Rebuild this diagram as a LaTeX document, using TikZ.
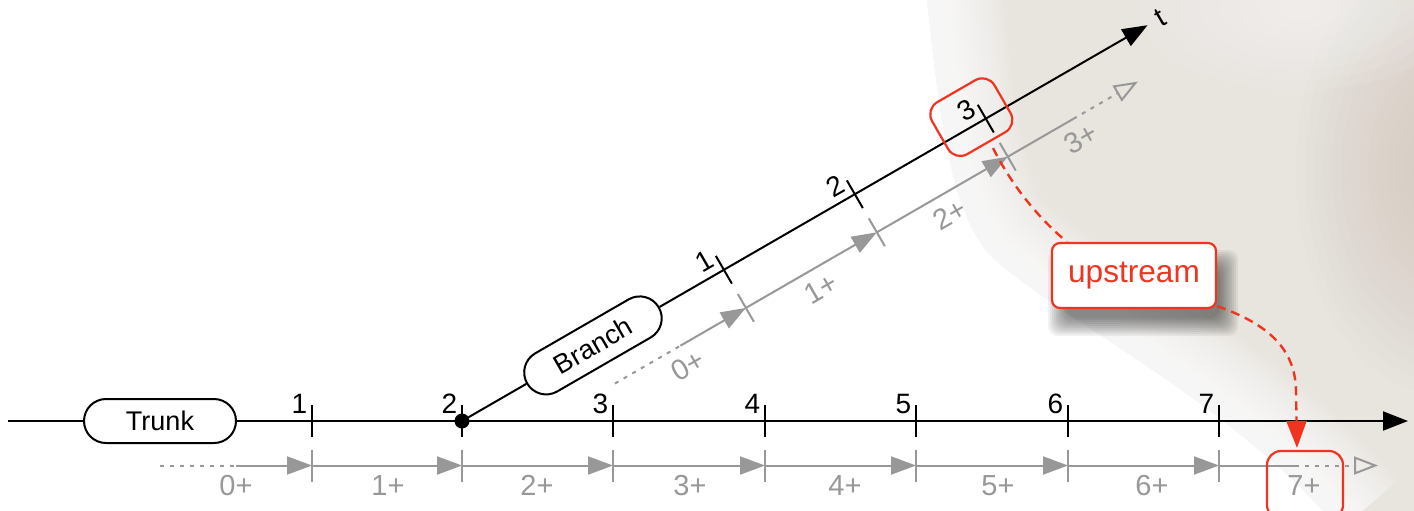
\documentclass[tikz,border=0pt]{standalone}
\usepackage{fontspec}
\setmainfont{Liberation Sans}
\usetikzlibrary{arrows.meta}
\definecolor{redA}{RGB}{240,52,32}
\definecolor{grayA}{RGB}{152,152,152}
\definecolor{beigeA}{RGB}{232,228,222}
\definecolor{beigeB}{RGB}{196,184,170}
\begin{document}
\begin{tikzpicture}[x=0.5pt,y=-0.5pt,
  blk/.style={line width=1pt, black},
  gry/.style={line width=1pt, grayA},
  gdot/.style={gry, dash pattern=on 2pt off 3pt},
  garr/.style={gry, -{Triangle[length=12.5pt,width=9pt]}},
  gopen/.style={gry, dash pattern=on 2pt off 3pt, -{Triangle[open,length=12pt,width=9pt]}},
  barr/.style={blk, -{Triangle[length=12.5pt,width=9.5pt]}},
  pill/.style={draw, line width=1pt, fill=white, rounded corners=11pt, minimum width=76pt, minimum height=22pt, inner sep=0pt, font=\fontsize{13.5}{16}\selectfont},
  lab/.style={inner sep=0pt, font=\fontsize{14}{16}\selectfont},
  glab/.style={inner sep=0pt, text=grayA, font=\fontsize{14.5}{16}\selectfont},
  redbox/.style={draw=redA, line width=1.1pt, rounded corners=7pt, inner sep=0pt},
  rdash/.style={draw=redA, line width=1.2pt, dash pattern=on 4.5pt off 3pt},
  upbox/.style={draw=redA, line width=1.1pt, fill=white, rounded corners=4pt, minimum width=82pt, minimum height=32.5pt, inner sep=0pt, text=redA, font=\fontsize{15.8}{18}\selectfont}
]
\useasboundingbox (0,0) rectangle (1414,510);
\clip (0,0) rectangle (1414,510);
\fill[white] (0,0) rectangle (1414,510);
% ---- background: soft beige region on the right
\def\bgcurve{(925,-20) .. controls (940,120) and (950,210) .. (990,255) .. controls (1060,320) and (1230,400) .. (1340,530)}
\fill[beigeA] (925,-20) .. controls (940,120) and (950,210) .. (990,255) .. controls (1060,320) and (1230,400) .. (1340,530) -- (1440,530) -- (1440,-20) -- cycle;
\foreach \w in {150,142,...,6}{
  \draw[white, opacity=0.1, line width=\w*0.5pt] \bgcurve;
}
\foreach \i in {1,...,16}{
  \fill[beigeB, opacity=0.03] (1440,170) ellipse [x radius=\i*4.5pt, y radius=\i*7pt];
}
\foreach \i in {1,...,8}{
  \fill[white, opacity=0.07] (1300,10) ellipse [x radius=\i*10pt, y radius=\i*5pt];
}

% ---- trunk gray (offset) line
\foreach \n/\x in {0/160,1/312,2/462,3/613,4/765,5/916,6/1068,7/1219}{\coordinate (G\n) at (\x,465.5);}
\coordinate (G0h) at (236,465.5);
\coordinate (G7h) at (1295,465.5);
\coordinate (Gend) at (1378,465.5);
\draw[gdot] (G0) -- (G0h);
\draw[garr] (G0h) -- (G1);
\foreach \a/\b in {1/2,2/3,3/4,4/5,5/6,6/7} \draw[garr] (G\a) -- (G\b);
\draw[gry] (G7) -- (G7h);
\draw[gopen] (G7h) -- (Gend);
\foreach \n in {1,...,7} \draw[gry] ([yshift=8pt]G\n) -- ([yshift=-8pt]G\n);
\foreach \t/\x in {0/236,1/388,2/537,3/690,4/845,5/998,6/1152,7/1304} \node[glab] (gl\t) at (\x,485.5) {\t+};

% ---- trunk
\coordinate (Tstart) at (8,421);
\coordinate (Tend) at (1408,421);
\node[pill] (trunk) at (160,421) {Trunk};
\draw[blk] (Tstart) -- (trunk.west);
\draw[barr] (trunk.east) -- (Tend);
\foreach \n/\x in {1/312,2/462,3/613,4/765,5/916,6/1068,7/1219}{
  \coordinate (T\n) at (\x,421);
  \draw[blk] ([yshift=8pt]T\n) -- ([yshift=-8pt]T\n);
  \node[lab] (L\n) at (\x-12.5,404) {\n};
}
\node[circle, fill=black, inner sep=0pt, minimum size=7.5pt] (bp) at (462,421) {};

% ---- branch
\begin{scope}[shift={(462,421)}, rotate=30, transform shape]
  \node[pill] (branch) at (151.2,0) {Branch};
  \coordinate (Bo) at (0,0);
  \coordinate (Btip) at (791.6,0);
  \draw[blk] (Bo) -- (branch.west);
  \draw[barr] (branch.east) -- (Btip);
  \foreach \n/\u in {1/302.4,2/453.6,3/604.8}{
    \draw[blk] (\u,-16) -- (\u,16);
    \node[lab] (bl\n) at (\u-13,-17) {\n};
  }
  \node[lab] (tlab) at (807,0) {t};
  % gray offset line
  \coordinate (g1) at (151.2,44);
  \coordinate (g1h) at (226.8,44);
  \coordinate (g2) at (302.4,44);
  \coordinate (g3) at (453.6,44);
  \coordinate (g4) at (604.8,44);
  \coordinate (g4h) at (680.4,44);
  \coordinate (gtip) at (755,44);
  \draw[gdot] (g1) -- (g1h);
  \draw[garr] (g1h) -- (g2);
  \draw[garr] (g2) -- (g3);
  \draw[garr] (g3) -- (g4);
  \draw[gry] (g4) -- (g4h);
  \draw[gopen] (g4h) -- (gtip);
  \foreach \u in {302.4,453.6,604.8} \draw[gry] (\u,28) -- (\u,60);
  \foreach \t/\u in {0/223,1/377,2/526,3/677} \node[glab] (bgl\t) at (\u,65) {\t+};
  \node[redbox, minimum width=36pt, minimum height=30pt] (b3) at (593,-8.5) {};
\end{scope}

% ---- red annotations
\node[redbox, minimum width=38pt, minimum height=34pt] (b7) at (1305,485) {};
% soft drop shadow of the upstream box
\foreach \i in {0,...,9}{
  \fill[black, opacity=0.055, rounded corners=5pt] (1066-2*\i,268-2*\i) rectangle (1220+2*\i,318+2*\i);
}
\node[upbox] (up) at (1134,275.5) {upstream};
\coordinate (rs) at (993,148);
\draw[rdash] (rs) .. controls (1010,182) and (1035,215) .. ([xshift=8pt]up.north west);
\coordinate (rbend) at (1296,392);
\draw[rdash, -{Triangle[length=13.5pt,width=10pt]}] ([yshift=1.5pt]up.south east) .. controls (1262,322) and (1296,345) .. (rbend) -- ([xshift=-4pt,yshift=1pt]b7.north);
\end{tikzpicture}
\end{document}
